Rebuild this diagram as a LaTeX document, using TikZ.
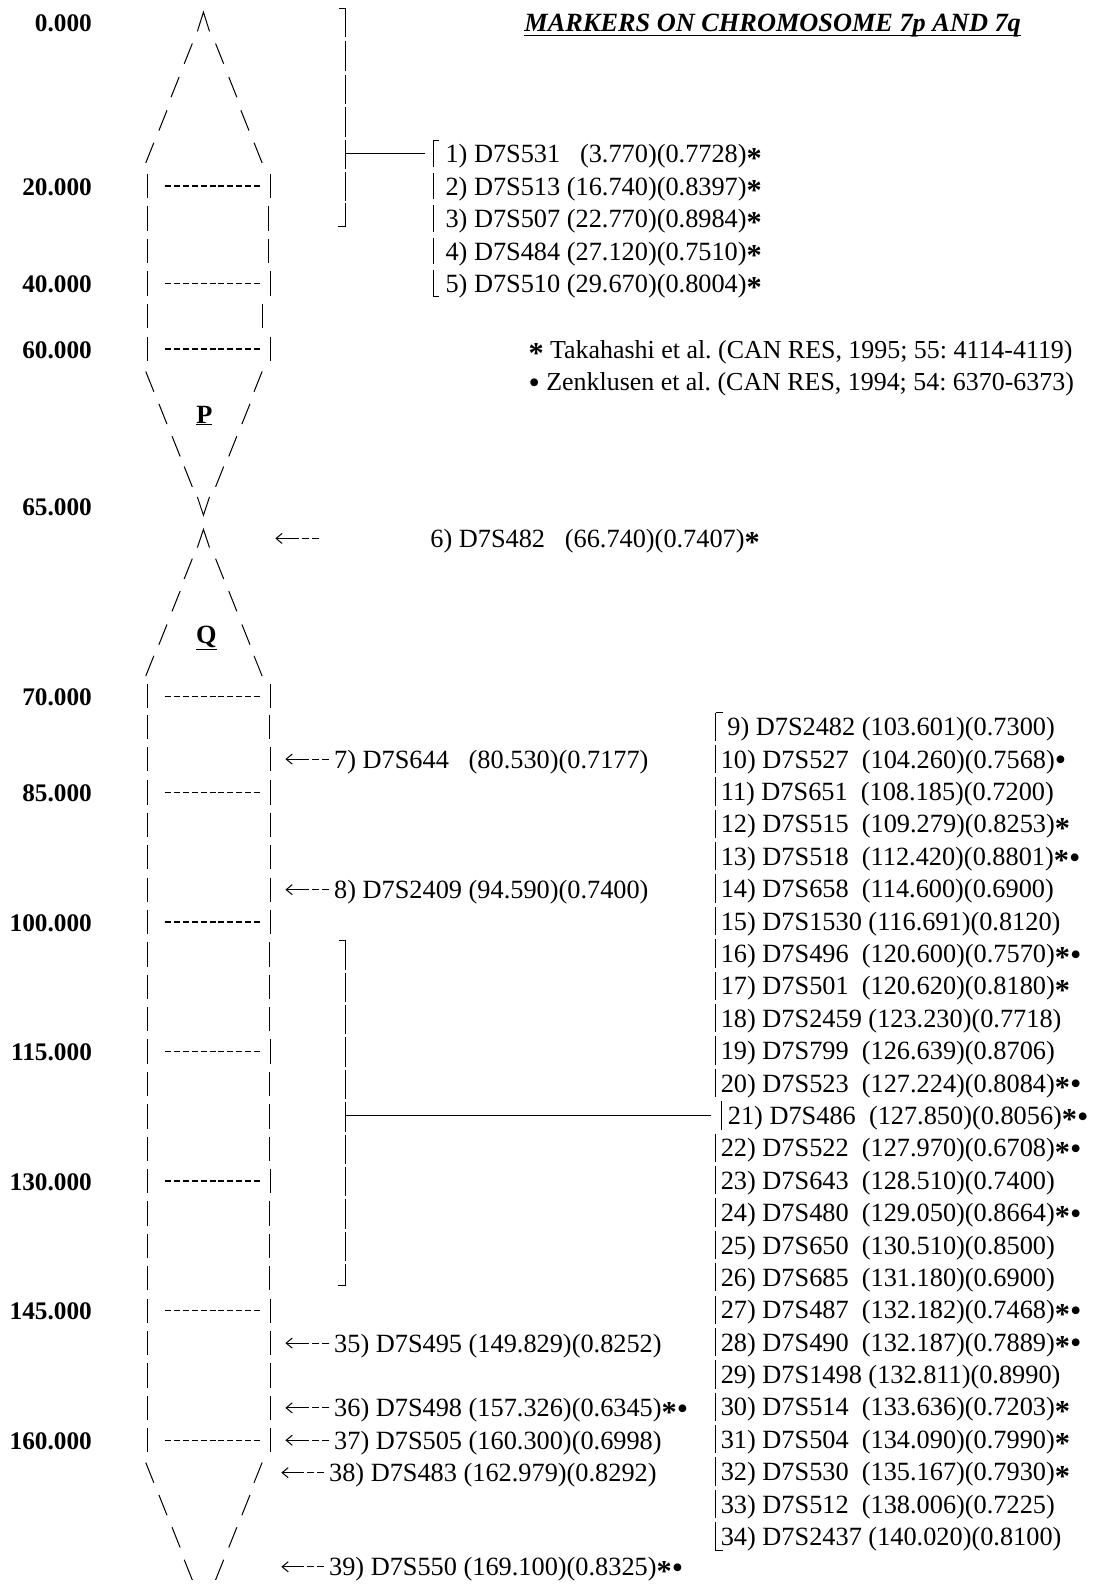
\documentclass[tikz,border=0pt]{standalone}
\usepackage{fontspec}
\setmainfont{Liberation Serif}
\usetikzlibrary{arrows.meta}
\newcommand\mkS{\raisebox{-0.2em}{\bfseries\fontsize{30}{30}\selectfont *}}
\newcommand\mkB{\raisebox{-0.1em}{\fontsize{32}{32}\selectfont\textbullet}}
\begin{document}
\frenchspacing
\begin{tikzpicture}[x=1pt,y=-1pt,
  every node/.style={inner sep=0pt,text height=18pt,text depth=0pt},
  txt/.style={anchor=west,font=\fontsize{26}{30}\selectfont},
  legtxt/.style={anchor=west,font=\fontsize{25.6}{30}\selectfont},
  lab/.style={anchor=east,font=\fontsize{25}{30}\selectfont\bfseries},
  arm/.style={anchor=center,font=\fontsize{26}{30}\selectfont\bfseries},
  chr/.style={line width=1pt},
  band/.style={line width=1.5pt,dash pattern=on 6pt off 2.8pt},
  brk/.style={line width=1pt},
  conn/.style={line width=1.1pt},
  ptr/.style={line width=1pt,shorten <=5pt,dash pattern=on 7pt off 3pt on 7pt off 3pt on 80pt off 1pt,-{Straight Barb[length=6pt,width=10pt]}},
]
\useasboundingbox (0,0) rectangle (1082,1568);

% ---------- scale labels ----------
\node[lab] (s0)   at (91,22)   {0.000};
\node[lab] (s20)  at (91,184)  {20.000};
\node[lab] (s40)  at (91,280)  {40.000};
\node[lab] (s60)  at (91,345)  {60.000};
\node[lab] (s65)  at (91,500)  {65.000};
\node[lab] (s70)  at (91,688)  {70.000};
\node[lab] (s85)  at (91,783)  {85.000};
\node[lab] (s100) at (91,911)  {100.000};
\node[lab] (s115) at (91,1039) {115.000};
\node[lab] (s130) at (91,1167) {130.000};
\node[lab] (s145) at (91,1295) {145.000};
\node[lab] (s160) at (91,1423) {160.000};

% ---------- title ----------
\node[anchor=west,font=\fontsize{26}{30}\selectfont\bfseries\itshape] (title) at (518,22) {MARKERS ON CHROMOSOME 7p AND 7q};
\draw[line width=1.6pt] ([yshift=-4pt]title.base west) -- ([yshift=-4pt]title.base east);

% ---------- chromosome (text-art outline) ----------
% tips
\draw[chr] (195,31) -- (201,12) -- (207,31);
\draw[chr] (195,491) -- (201,509) -- (207,491);
\draw[chr] (195,541) -- (201,523) -- (207,541);
% "/ \" rows (opening)
\foreach \l/\r/\y in {186/217/53,173/230/86,161/242/119,148/255/151,
                      186/217/562,174/230/594,161/243/627,148/255/658}{
  \draw[chr] (\l-4,\y+10) -- (\l+4,\y-10);
  \draw[chr] (\r-4,\y-10) -- (\r+4,\y+10);
}
% "\ /" rows (closing)
\foreach \l/\r/\y in {148/255/377,161/243/409,174/230/441,186/217/471,
                      148/255/1455,161/243/1487,174/230/1519,186/217/1551}{
  \draw[chr] (\l-4,\y-10) -- (\l+4,\y+10);
  \draw[chr] (\r-4,\y+10) -- (\r+4,\y-10);
}
% banded rows
\foreach \y in {184,280,345,688,783,911,1039,1167,1295,1423}{
  \draw[chr] (146,\y-12) -- (146,\y+12);
  \draw[band] (163,\y) -- (258,\y);
  \draw[chr] (267,\y-12) -- (267,\y+12);
}
% plain rows
\foreach \y/\r in {216/265,248/265,312/259,718/266,750/267,815/267,847/267,879/267,
                   943/266,975/266,1007/266,1071/266,1103/266,1135/266,
                   1199/266,1231/266,1263/266,1327/267,1359/267,1391/267}{
  \draw[chr] (146,\y-12) -- (146,\y+12);
  \draw[chr] (\r,\y-12) -- (\r,\y+12);
}
\node[arm] (P) at (202,409) {\underline{P}};
\node[arm] (Q) at (204,627) {\underline{Q}};

% ---------- bracket 1 and markers 1-5 ----------
\foreach \y in {22,55,88,120,152,184}{\draw[brk] (341,\y-14) -- (341,\y+15);}
\draw[brk] (335,8) -- (341,8);
\draw[brk] (341,201) -- (341,224) -- (334,224);
\coordinate (b1) at (341,152);
\coordinate (l1) at (420,152);
\draw[conn] (b1) -- (l1);

\foreach \y in {152,184,216,248,280}{\draw[brk] (428,\y-13) -- (428,\y+13);}
\draw[brk] (428,139) -- (434,139);
\draw[brk] (428,293) -- (434,293);
\node[txt] (m1) at (440,152) {1) D7S531\ \ \ (3.770)(0.7728)\mkS};
\node[txt] (m2) at (440,184) {2) D7S513 (16.740)(0.8397)\mkS};
\node[txt] (m3) at (440,216) {3) D7S507 (22.770)(0.8984)\mkS};
\node[txt] (m4) at (440,248) {4) D7S484 (27.120)(0.7510)\mkS};
\node[txt] (m5) at (440,280) {5) D7S510 (29.670)(0.8004)\mkS};

% ---------- legend ----------
\node[legtxt] (leg1) at (522,345) {\mkS\ Takahashi et al. (CAN RES, 1995; 55: 4114-4119)};
\node[legtxt] (leg2) at (522,377) {\mkB\ Zenklusen et al. (CAN RES, 1994; 54: 6370-6373)};

% ---------- marker 6 ----------
\coordinate (a6s) at (320,532);
\coordinate (a6e) at (272,532);
\draw[ptr] (a6s) -- (a6e);
\node[txt] (m6) at (425,532) {6) D7S482\ \ \ (66.740)(0.7407)\mkS};

% ---------- markers 7, 8, 35-39 ----------
\node[txt] (m7)  at (330,750)  {7) D7S644\ \ \ (80.530)(0.7177)};
\node[txt] (m8)  at (330,879)  {8) D7S2409 (94.590)(0.7400)};
\node[txt] (m35) at (330,1327) {35) D7S495 (149.829)(0.8252)};
\node[txt] (m36) at (330,1391) {36) D7S498 (157.326)(0.6345)\mkS\mkB};
\node[txt] (m37) at (330,1423) {37) D7S505 (160.300)(0.6998)};
\node[txt] (m38) at (325,1455) {38) D7S483 (162.979)(0.8292)};
\node[txt] (m39) at (325,1548) {39) D7S550 (169.100)(0.8325)\mkS\mkB};
\coordinate (t7)  at (282,750);
\coordinate (t8)  at (282,879);
\coordinate (t35) at (282,1327);
\coordinate (t36) at (282,1391);
\coordinate (t37) at (282,1423);
\coordinate (t38) at (278,1455);
\coordinate (t39) at (278,1548);
\foreach \m in {7,8,35,36,37,38,39}{\draw[ptr] (m\m.west) -- (t\m);}

% ---------- bracket 2 and markers 9-34 ----------
\foreach \y in {943,975,1007,1039,1071,1103,1135,1167,1199,1231}{\draw[brk] (341,\y-14) -- (341,\y+15);}
\draw[brk] (335,929) -- (341,929);
\draw[brk] (341,1249) -- (341,1270) -- (334,1270);
\coordinate (b2) at (341,1102);
\coordinate (l2) at (702,1102);
\draw[conn] (b2) -- (l2);

\foreach \y in {718,750,782,814,846,878,910,942,974,1006,1038,1070,
                1134,1166,1198,1230,1262,1294,1326,1358,1390,1422,1454,1486,1518}{
  \draw[brk] (707,\y-14) -- (707,\y+14);}
\draw[brk] (713,1088) -- (713,1116);
\draw[brk] (707,704) -- (714,704);
\draw[brk] (707,1532) -- (714,1532);

\node[txt] (m9)  at (712,718)  {\ 9) D7S2482 (103.601)(0.7300)};
\node[txt] (m10) at (712,750)  {10) D7S527\ \ (104.260)(0.7568)\mkB};
\node[txt] (m11) at (712,782)  {11) D7S651\ \ (108.185)(0.7200)};
\node[txt] (m12) at (712,814)  {12) D7S515\ \ (109.279)(0.8253)\mkS};
\node[txt] (m13) at (712,846)  {13) D7S518\ \ (112.420)(0.8801)\mkS\mkB};
\node[txt] (m14) at (712,878)  {14) D7S658\ \ (114.600)(0.6900)};
\node[txt] (m15) at (712,910)  {15) D7S1530 (116.691)(0.8120)};
\node[txt] (m16) at (712,942)  {16) D7S496\ \ (120.600)(0.7570)\mkS\mkB};
\node[txt] (m17) at (712,974)  {17) D7S501\ \ (120.620)(0.8180)\mkS};
\node[txt] (m18) at (712,1006) {18) D7S2459 (123.230)(0.7718)};
\node[txt] (m19) at (712,1038) {19) D7S799\ \ (126.639)(0.8706)};
\node[txt] (m20) at (712,1070) {20) D7S523\ \ (127.224)(0.8084)\mkS\mkB};
\node[txt] (m21) at (719,1102) {21) D7S486\ \ (127.850)(0.8056)\mkS\mkB};
\node[txt] (m22) at (712,1134) {22) D7S522\ \ (127.970)(0.6708)\mkS\mkB};
\node[txt] (m23) at (712,1166) {23) D7S643\ \ (128.510)(0.7400)};
\node[txt] (m24) at (712,1198) {24) D7S480\ \ (129.050)(0.8664)\mkS\mkB};
\node[txt] (m25) at (712,1230) {25) D7S650\ \ (130.510)(0.8500)};
\node[txt] (m26) at (712,1262) {26) D7S685\ \ (131.180)(0.6900)};
\node[txt] (m27) at (712,1294) {27) D7S487\ \ (132.182)(0.7468)\mkS\mkB};
\node[txt] (m28) at (712,1326) {28) D7S490\ \ (132.187)(0.7889)\mkS\mkB};
\node[txt] (m29) at (712,1358) {29) D7S1498 (132.811)(0.8990)};
\node[txt] (m30) at (712,1390) {30) D7S514\ \ (133.636)(0.7203)\mkS};
\node[txt] (m31) at (712,1422) {31) D7S504\ \ (134.090)(0.7990)\mkS};
\node[txt] (m32) at (712,1454) {32) D7S530\ \ (135.167)(0.7930)\mkS};
\node[txt] (m33) at (712,1486) {33) D7S512\ \ (138.006)(0.7225)};
\node[txt] (m34) at (712,1518) {34) D7S2437 (140.020)(0.8100)};
\end{tikzpicture}
\end{document}
